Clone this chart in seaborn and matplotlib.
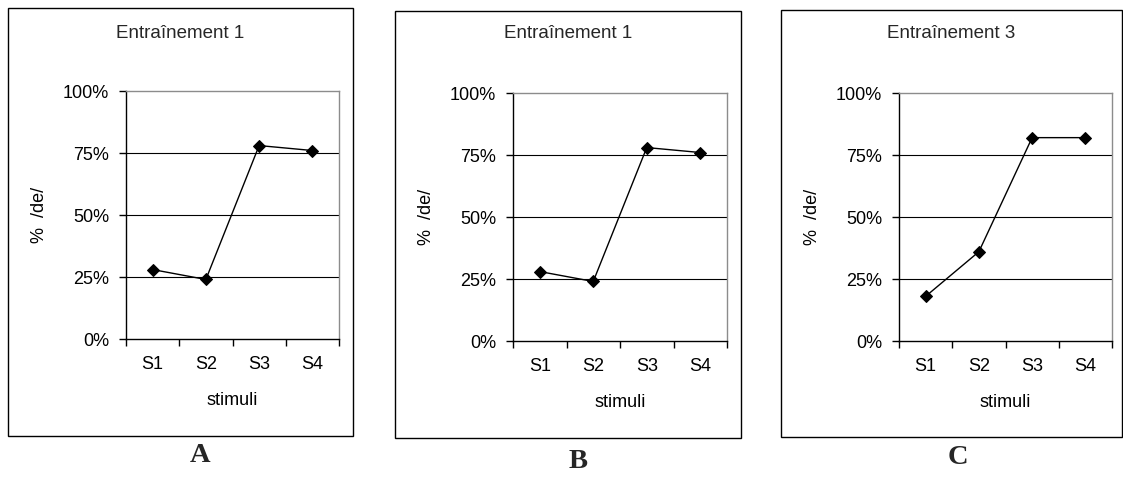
import matplotlib
matplotlib.use("Agg")
import matplotlib.pyplot as plt
import seaborn as sns
from matplotlib.patches import Rectangle
from matplotlib.ticker import PercentFormatter

stimuli = ["S1", "S2", "S3", "S4"]
train_a = [28, 24, 78, 76]
train_b = [28, 24, 78, 76]
train_c = [18, 36, 82, 82]
titles = ["Entraînement 1", "Entraînement 1", "Entraînement 3"]
letters = ["A", "B", "C"]

sns.set_theme(style="white")
plt.rcParams["font.family"] = ["Liberation Sans", "DejaVu Sans"]

W, H = 1123, 479
fig = plt.figure(figsize=(W / 100, H / 100), dpi=100)
FS = 13


def px_rect(left, top, right, bottom):
    return [left / W, (H - bottom) / H, (right - left) / W, (bottom - top) / H]


# plot areas and outer boxes in pixel coords (left, top, right, bottom)
areas = [(126, 91, 339, 339), (513, 93, 727, 341), (899, 93, 1112, 341)]
boxes = [(8, 8, 353, 436), (395, 11, 741, 438), (781, 10, 1122, 437)]
letter_pos = [(200, 456), (578, 462), (958, 458)]
series = [train_a, train_b, train_c]

for values, title, letter, area, box, lp in zip(series, titles, letters, areas, boxes, letter_pos):
    # chart border
    l, t, r, b = box
    fig.patches.append(Rectangle((l / W, (H - b) / H), (r - l) / W, (b - t) / H,
                                 transform=fig.transFigure, fill=False,
                                 edgecolor="black", linewidth=1.0))
    fig.text((l + r) / 2 / W, (H - 34) / H, title, ha="center", va="center", fontsize=13.5)
    fig.text(lp[0] / W, (H - lp[1]) / H, letter, ha="center", va="center",
             fontsize=20.5, fontweight="bold", family="Liberation Serif")

    ax = fig.add_axes(px_rect(*area))
    sns.lineplot(x=stimuli, y=values, marker="D", markersize=6, color="black",
                 linewidth=1.0, markeredgecolor="black", ax=ax, zorder=5)
    ax.set_xlim(-0.5, 3.5)
    ax.set_ylim(0, 100)
    ax.set_yticks([0, 25, 50, 75, 100])
    ax.yaxis.set_major_formatter(PercentFormatter(xmax=100, decimals=0))
    ax.set_xticks(range(4))
    ax.set_xticklabels(stimuli)
    ax.set_xticks([-0.5, 0.5, 1.5, 2.5, 3.5], minor=True)
    ax.tick_params(axis="x", which="major", length=0, pad=12, labelsize=FS, colors="black")
    ax.tick_params(axis="x", which="minor", bottom=True, length=5, width=1, direction="out", color="black")
    ax.tick_params(axis="y", which="major", left=True, length=5, width=1, direction="out",
                   pad=7, labelsize=FS, colors="black")

    ax.yaxis.grid(True, color="black", linewidth=0.8)
    ax.get_ygridlines()[-1].set_visible(False)
    ax.get_ygridlines()[0].set_visible(False)

    for side in ["left", "bottom"]:
        ax.spines[side].set_color("black")
        ax.spines[side].set_linewidth(1.0)
    for side in ["top", "right"]:
        ax.spines[side].set_color("#8c8c8c")
        ax.spines[side].set_linewidth(1.0)

    ax.set_xlabel("stimuli", fontsize=FS, color="black")
    ax.set_ylabel("%  /de/", fontsize=FS, color="black")
    ax.xaxis.set_label_coords(0.5, -0.246)
    ax.xaxis.label.set_va("center")
    ax.yaxis.set_label_coords(-0.405, 0.5)
    ax.yaxis.label.set_va("center")
    ax.yaxis.label.set_ha("center")

fig.savefig("out.png", dpi=100)
